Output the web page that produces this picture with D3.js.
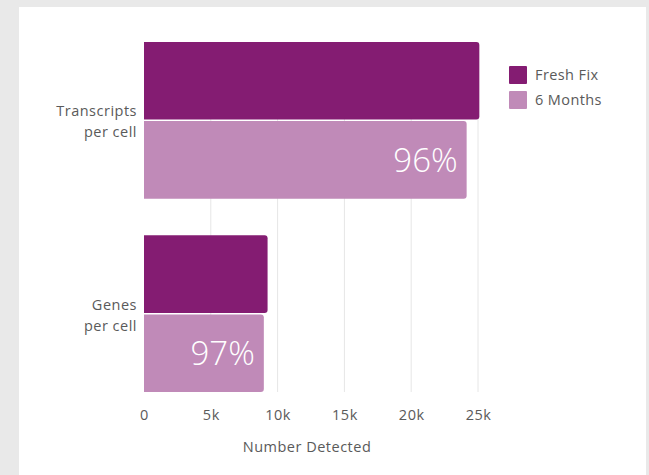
<!DOCTYPE html>
<html>
<head>
<meta charset="utf-8">
<script src="https://cdn.jsdelivr.net/npm/d3@7"></script>
<style>
  html, body { margin: 0; padding: 0; background: #e9e9e9; }
  svg { display: block; }
  text { font-family: "Open Sans", "Noto Sans", sans-serif; }
</style>
</head>
<body>
<script>
// Measures and the two sample conditions
const categories = ["Transcripts\nper cell", "Genes\nper cell"];
const seriesNames = ["Fresh Fix", "6 Months"];
const freshFix = [25100, 9250];
const sixMonths = [24150, 8970];
const retainedLabels = ["96%", "97%"];
const tickValues = [0, 5000, 10000, 15000, 20000, 25000];
const tickLabels = ["0", "5k", "10k", "15k", "20k", "25k"];
const colors = ["#841c72", "#c08ab8"];

const W = 649, H = 475;
const textColor = "#5a5a5a";
const labelSize = 14.5;
const spacing = "0.5px";
const svg = d3.select("body").append("svg").attr("width", W).attr("height", H);

// white card
svg.append("rect").attr("x", 19).attr("y", 7).attr("width", 627).attr("height", H - 7).attr("fill", "#fff");

const plot = { left: 144, right: 478, top: 42, bottom: 392 };

const x = d3.scaleLinear().domain([0, 25000]).range([plot.left, plot.right]);
const y = d3.scaleBand().domain(categories).range([plot.top, plot.bottom]).paddingInner(0.19).paddingOuter(0);
const ySub = d3.scaleBand().domain(seriesNames).range([0, y.bandwidth()]).paddingInner(0.02);

// vertical gridlines
svg.append("g").selectAll("line").data(tickValues.slice(1)).join("line")
  .attr("x1", d => x(d)).attr("x2", d => x(d))
  .attr("y1", plot.top).attr("y2", plot.bottom)
  .attr("stroke", "#e6e6e6").attr("stroke-width", 1);

// bars
const rows = categories.map((c, i) => ({ cat: c, vals: [freshFix[i], sixMonths[i]], label: retainedLabels[i] }));
const r = 3;
function barPath(x0, x1, y0, h) {
  // flat left edge on the axis, rounded right corners
  return `M${x0},${y0}H${x1 - r}Q${x1},${y0} ${x1},${y0 + r}V${y0 + h - r}Q${x1},${y0 + h} ${x1 - r},${y0 + h}H${x0}Z`;
}
const groups = svg.append("g").selectAll("g").data(rows).join("g")
  .attr("transform", d => `translate(0,${y(d.cat)})`);

groups.selectAll("path").data(d => d.vals.map((v, j) => ({ v, s: seriesNames[j], c: colors[j] }))).join("path")
  .attr("d", d => barPath(x(0), x(d.v), ySub(d.s), ySub.bandwidth()))
  .attr("fill", d => d.c);

// retention labels inside the 6 Months bars
groups.append("text")
  .attr("x", d => x(d.vals[1]) - 9)
  .attr("y", ySub("6 Months") + ySub.bandwidth() / 2 + 12)
  .attr("text-anchor", "end")
  .attr("fill", "#fff")
  .attr("font-size", 33)
  .attr("font-weight", 300)
  .text(d => d.label);

// category labels
const catLabels = svg.append("g").selectAll("text").data(categories).join("text")
  .attr("text-anchor", "end")
  .attr("fill", textColor)
  .attr("font-size", labelSize)
  .attr("letter-spacing", spacing)
  .attr("transform", c => `translate(137,${y(c) + y.bandwidth() / 2})`);
catLabels.each(function (c) {
  const lines = c.split("\n");
  d3.select(this).selectAll("tspan").data(lines).join("tspan")
    .attr("x", 0)
    .attr("y", (l, i) => i === 0 ? -4 : 17)
    .text(l => l);
});

// x axis
const xAxis = d3.axisBottom(x).tickValues(tickValues).tickFormat((d, i) => tickLabels[i]).tickSize(0).tickPadding(0);
const axisG = svg.append("g").attr("transform", `translate(0,${plot.bottom})`).call(xAxis);
axisG.select(".domain").remove();
axisG.selectAll("text")
  .attr("dy", null).attr("y", 28)
  .attr("fill", textColor).attr("font-size", labelSize)
  .attr("letter-spacing", spacing)
  .attr("font-family", "'Open Sans', 'Noto Sans', sans-serif");

svg.append("text")
  .attr("x", 307).attr("y", 452)
  .attr("text-anchor", "middle").attr("fill", textColor).attr("font-size", labelSize)
  .attr("letter-spacing", spacing)
  .text("Number Detected");

// legend
const legend = svg.append("g").selectAll("g").data(seriesNames).join("g")
  .attr("transform", (d, i) => `translate(509,${66 + i * 25})`);
legend.append("rect").attr("width", 18).attr("height", 18).attr("rx", 1)
  .attr("fill", (d, i) => colors[i]);
legend.append("text").attr("x", 26).attr("y", 14)
  .attr("fill", textColor).attr("font-size", labelSize)
  .attr("letter-spacing", "0.4px")
  .text(d => d);
</script>
</body>
</html>
